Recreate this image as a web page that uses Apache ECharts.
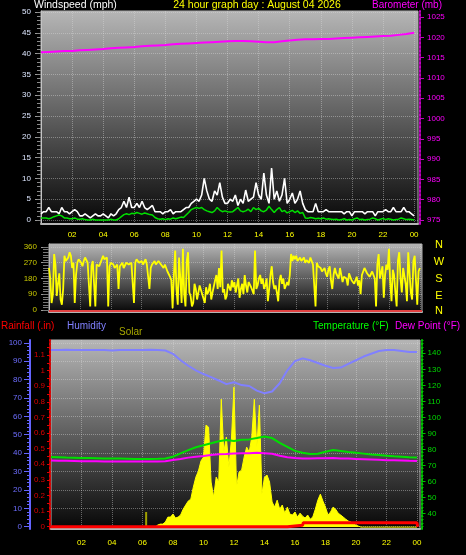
<!DOCTYPE html>
<html><head><meta charset="utf-8">
<script src="https://cdn.jsdelivr.net/npm/echarts@6/dist/echarts.min.js"></script>
<style>html,body{margin:0;padding:0;background:#000;}#c{width:466px;height:555px;}</style>
</head><body><div id="c"></div>
<script>
// ---------- tick labels ----------
const xTickHours = [2,4,6,8,10,12,14,16,18,20,22,24];
const windTicks = [0,5,10,15,20,25,30,35,40,45,50];
const baroTicks = [975,980,985,990,995,1000,1005,1010,1015,1020,1025];
const dirTicks = [0,90,180,270,360];
const compassLetters = ['N','W','S','E','N'];
const humTicks = [0,10,20,30,40,50,60,70,80,90,100];
const rainTicks = [0,0.1,0.2,0.3,0.4,0.5,0.6,0.7,0.8,0.9,1,1.1];
const tempTicks = [40,50,60,70,80,90,100,110,120,130,140];

// ---------- 10-minute series (index i -> hour i/6) ----------
const windGust = [
 1.5,2,2,3,2,2,  2,1.5,3,2,2,1.5,  2,2.5,2,1,1,1.5,  1,0.5,1,1.5,1,1,
 1.5,1,0.5,1.5,1,1.5,  2.5,3,4.5,3,5.5,3,  3,4,3,4.5,3,2.5,  3,3.5,2,2,2,1.5,
 2,2,2.5,1.5,2,2,  2,2.5,3,3,4,4.5,  5,4.5,6,10,7,5,  4.5,7,6,9,5.5,4,
 4,5,4.5,6,3.5,5,  4,7.2,4.5,5,5.5,9,  6,5,11.3,6,4,12.5,  5,7,4.5,6,10,4,
 5,6.5,4,5,7,4,  2.5,2,2,2,4,2,  2,2,2.5,2,2,2,  2,2,2,1.5,2,2,
 1,2,2,2,2,1.5,  2,2,2,1,2,2,  2,2.5,2,2,3,2,  2,2,3,2,2,1.5,  1];
const windAvg = [
 0.5,0.5,0.5,0.3,0.5,0.8,  1,1.2,1,0.5,0.5,0.3,  0.3,0.5,0.2,0.2,0.3,0.1,  0,0,0.2,0,0,0,
 0,0,0,0.2,0,0,  0.3,0.8,1.3,1.5,1.3,1.6,  1.5,1.8,1.6,1.4,1.7,1.5,  1.3,1.2,0.6,0.3,0.2,0.3,
 0.1,0.3,0.2,0.5,0.3,0.5,  0.7,0.6,1.2,1.8,2.5,2.8,  3,2.8,3,2.5,2.2,2,  1.8,2.2,3,2.4,2,2.2,
 2,1.9,2,2.5,3,2.2,  2,2.2,2.6,2,3,2.5,  2.8,2.2,2,2.4,3.3,2.5,  1.8,2.5,3,2,2.3,1.7,
 2,2.3,1.8,2.2,1.6,1.8,  0.5,0.4,0.6,0.5,0.3,0.4,  0.3,0.5,0.2,0.3,0.2,0.1,  0.2,0,0.1,0.3,0,0.1,
 0,0.3,0.5,0.1,0.2,0,  0.1,0.2,0.5,0.3,0,0.2,  0.4,0.1,0.3,0.2,0,0.1,  0.2,0.5,0.3,0.1,0.2,0.1,  0];
const solar = [
 0,0,0,0,0,0, 0,0,0,0,0,0, 0,0,0,0,0,0, 0,0,0,0,0,0, 0,0,0,0,0,0, 0,0,0,0,0,0, 0,0,0,0,0,0,
 11,16,16,27,53,53,
 69,48,53,64,95,117,
 138,148,212,265,297,350,
 371,541,530,239,159,265,
 239,678,398,477,318,466,
 742,212,292,302,371,424,
 398,477,678,424,647,175,
 265,276,239,133,106,143,
 95,117,74,106,69,64,
 80,53,74,58,48,64,
 42,53,95,143,175,138,
 106,64,80,106,95,74,
 64,53,42,32,27,16,
 11,5,0,0,0,0,
 0,0,0,0,0,0, 0,0,0,0,0,0, 0,0,0,0,0,0, 0];

// ---------- 5-minute wind direction (index i -> hour i/12) ----------
const windDir = [
 240,180,40,90,320,260,80,150,210,60,30,120,
 310,280,290,300,330,310,240,270,40,200,270,290,
 290,270,250,280,300,290,270,260,20,250,280,290,
 20,260,270,250,260,290,310,290,280,300,20,250,
 270,280,260,240,250,260,120,250,260,270,240,250,
 270,280,260,250,270,260,40,270,290,280,270,260,
 280,260,270,290,260,250,120,240,260,270,280,260,
 260,280,275,260,250,240,260,250,220,230,190,170,
 10,200,340,120,30,300,180,40,350,90,20,280,
 330,100,80,20,40,150,120,60,100,140,150,90,
 80,40,130,90,110,150,60,100,110,170,200,120,
 240,130,340,100,120,60,80,150,140,110,170,130,
 160,100,140,180,70,120,150,90,200,140,100,160,
 160,130,110,90,340,120,140,180,200,150,180,120,
 140,180,50,120,200,250,160,120,140,100,50,170,
 200,150,180,120,110,160,140,200,320,280,310,290,
 310,280,290,300,280,290,300,270,285,290,270,300,
 280,260,270,20,270,250,260,240,220,230,240,210,
 190,230,250,170,120,200,240,210,200,180,240,200,
 160,190,200,180,140,210,220,170,180,150,160,190,
 140,170,90,200,220,240,250,210,200,190,180,220,
 210,180,20,260,320,180,190,250,70,200,260,230,
 350,160,50,230,200,100,20,280,330,180,100,240,
 240,150,50,330,340,100,60,280,310,170,30,220,
 240];

// ---------- 30-minute series (index i -> hour i/2) ----------
const barometer = [1016.3,1016.4,1016.5,1016.6,1016.6,1016.8,1016.9,1017.0,1017.1,1017.3,1017.4,1017.5,
 1017.6,1017.8,1017.9,1018.0,1018.1,1018.3,1018.4,1018.5,1018.6,1018.7,1018.8,1018.9,
 1019.0,1019.1,1019.1,1019.0,1018.9,1018.8,1018.8,1019.0,1019.2,1019.4,1019.5,1019.5,
 1019.6,1019.6,1019.7,1019.8,1019.9,1020.0,1020.1,1020.2,1020.3,1020.4,1020.6,1020.8,1021.1];
const humidity = [96,96,96.2,96,96,96.1,96,96,95.8,96,96,96,96,96.2,96,95.8,
 94,90.5,87.5,85,83,81.3,79.5,77.5,78.5,77,76.5,74,72.5,73.5,78,85,
 90,91.5,90.5,89,87.5,86.3,86.5,88.5,90.5,92.5,94,95.5,96,96,95.5,95,95];
const temperature = [75.2,75,74.8,74.7,74.6,74.5,74.4,74.3,74.2,74.2,74.1,74,74,74,74.1,74.3,
 75.4,77.5,79.5,81.3,82.5,83.8,85,85.8,85.2,86,86.2,87,88,87,84,81.5,
 79,77.8,77,77.2,78.5,79.6,79,78.3,77.8,77.3,76.8,76.4,76,75.6,75.3,75,74.8];
const dewPoint = [73,72.9,72.8,72.7,72.6,72.5,72.5,72.4,72.4,72.3,72.3,72.3,72.3,72.3,72.4,72.6,
 73.3,74,74.8,75.3,75.8,76.5,76.9,77,77.3,77.5,77.5,77.8,77.5,77.2,76,75,
 74.5,74.3,74.3,74.4,74.4,74.5,74.3,74.2,74,73.8,73.6,73.4,73.2,73.1,73,72.8,72.7];

// ---------- rainfall (accumulated, step points) ----------
const rainHours = [0, 15.5, 15.55, 16.5, 16.55, 24.0, 24.05];
const rainInches = [0, 0, 0.01, 0.01, 0.025, 0.025, 0];
const solarMarkHour = [6.24, 6.24];
const solarMarkValue = [0, 80];

// ---------- build ----------
const FONT = "'Liberation Sans', Arial, sans-serif";
const every5 = arr => arr.map((v, i) => [i / 12, v]);
const every10 = arr => arr.map((v, i) => [i / 6, v]);
const every30 = arr => arr.map((v, i) => [i / 2, v]);
const pairs = (xs, ys) => xs.map((x, i) => [x, ys[i]]);
const range = (a, b, s) => { const r = []; for (let v = a; v <= b + 1e-9; v += s) r.push(+v.toFixed(4)); return r; };
const hourFmt = v => { const h = Math.round(v) % 24; return (h < 10 ? '0' : '') + h; };
const plain = v => String(v);

const bg = () => new echarts.graphic.LinearGradient(0, 0, 0, 1, [
  { offset: 0, color: '#b6b6b6' }, { offset: 1, color: '#060606' }]);
const gridLine = { show: true, lineStyle: { color: 'rgba(220,220,220,0.42)', type: 'dotted', width: 1 } };

function xAx(grid, max, labels, margin) {
  return {
    type: 'value', gridIndex: grid, min: 0, max: max,
    axisLine: { show: true, onZero: false, lineStyle: { color: '#b4b4b4', width: 2 } },
    axisTick: { show: false, customValues: xTickHours },
    axisLabel: labels ? { customValues: xTickHours, formatter: hourFmt, color: '#ffff00', fontSize: 8, fontFamily: FONT, margin: margin } : { show: false },
    splitLine: gridLine
  };
}
function yAx(o) {
  return Object.assign({
    type: 'value', axisLine: { show: false, onZero: false }, splitLine: { show: false },
    axisLabel: { show: false }, axisTick: { show: false }
  }, o);
}

const option = {
  backgroundColor: '#000',
  animation: false,
  grid: [
    { left: 41, top: 11, width: 377, height: 213, show: true, backgroundColor: bg(), borderColor: '#b0b0b0', borderWidth: 1 },
    { left: 49, top: 244, width: 373, height: 68, show: true, backgroundColor: bg(), borderColor: '#b0b0b0', borderWidth: 1 },
    { left: 51, top: 340, width: 369, height: 189, show: true, backgroundColor: bg(), borderColor: '#b0b0b0', borderWidth: 1 }
  ],
  xAxis: [ xAx(0, 24.25, true, 7), xAx(1, 24.14, false, 0), xAx(2, 24.2, true, 10) ],
  yAxis: [
    // 0 wind
    yAx({ gridIndex: 0, position: 'left', min: -0.96, max: 50.24,
      axisLine: { show: true, onZero: false, lineStyle: { color: '#c4c4c4', width: 1 } },
      axisTick: { show: true, customValues: windTicks, length: 6, lineStyle: { color: '#9a9a9a' } },
      axisLabel: { show: true, customValues: windTicks, color: '#dde6ff', fontSize: 8, fontFamily: FONT, margin: 10 },
      splitLine: gridLine }),
    // 1 wind minor ticks
    yAx({ gridIndex: 0, position: 'left', min: -0.96, max: 50.24,
      axisTick: { show: true, customValues: range(0, 50, 1), length: 4, lineStyle: { color: '#8a8a8a' } } }),
    // 2 barometer
    yAx({ gridIndex: 0, position: 'right', offset: 2, min: 974.01, max: 1026.48,
      axisLine: { show: true, onZero: false, lineStyle: { color: '#c000c0', type: 'dotted', width: 2 } },
      axisTick: { show: true, customValues: baroTicks, length: 4, lineStyle: { color: '#c000c0' } },
      axisLabel: { show: true, customValues: baroTicks, formatter: plain, color: '#ff00ff', fontSize: 8, fontFamily: FONT, margin: 7 } }),
    // 3 direction
    yAx({ gridIndex: 1, position: 'left', min: -11.4, max: 377.1,
      axisLine: { show: true, onZero: false, lineStyle: { color: '#b8b8b8', width: 1 } },
      axisTick: { show: true, customValues: dirTicks, length: 8, lineStyle: { color: '#9a9a9a' } },
      axisLabel: { show: true, customValues: dirTicks, color: '#c8c800', fontSize: 8, fontFamily: FONT, margin: 12 },
      splitLine: gridLine }),
    // 4 direction minor
    yAx({ gridIndex: 1, position: 'left', min: -11.4, max: 377.1,
      axisTick: { show: true, customValues: range(0, 360, 15), length: 6, lineStyle: { color: '#7a7a7a' } } }),
    // 5 humidity
    yAx({ gridIndex: 2, position: 'left', offset: 21, min: -1.25, max: 101.5,
      axisLine: { show: true, onZero: false, lineStyle: { color: '#6464ff', width: 2 } },
      axisTick: { show: true, customValues: humTicks, length: 6, lineStyle: { color: '#6464ff' } },
      axisLabel: { show: true, customValues: humTicks, color: '#6e6eff', fontSize: 8, fontFamily: FONT, margin: 8 },
      splitLine: gridLine }),
    // 6 humidity minor
    yAx({ gridIndex: 2, position: 'left', offset: 21, min: -1.25, max: 101.5,
      axisTick: { show: true, customValues: range(0, 100, 2), length: 3, lineStyle: { color: '#6464ff' } } }),
    // 7 rain
    yAx({ gridIndex: 2, position: 'left', offset: 1, min: -0.0147, max: 1.196,
      axisLine: { show: true, onZero: false, lineStyle: { color: '#e00000', type: 'dotted', width: 2 } },
      axisTick: { show: true, customValues: range(0, 1.15, 0.05), length: 3, lineStyle: { color: '#e00000' } },
      axisLabel: { show: true, customValues: rainTicks, formatter: v => String(Math.round(v * 10) / 10), color: '#dd0000', fontSize: 8, fontFamily: FONT, margin: 5 } }),
    // 8 temperature
    yAx({ gridIndex: 2, position: 'right', offset: 1.5, min: 30.19, max: 148.31,
      axisLine: { show: true, onZero: false, lineStyle: { color: '#00c000', type: 'dotted', width: 2 } },
      axisTick: { show: true, customValues: tempTicks, length: 4, lineStyle: { color: '#00c000' } },
      axisLabel: { show: true, customValues: tempTicks, color: '#00d800', fontSize: 8, fontFamily: FONT, margin: 6 } }),
    // 9 temperature minor
    yAx({ gridIndex: 2, position: 'right', offset: 1.5, min: 30.19, max: 148.31,
      axisTick: { show: true, customValues: range(32, 148, 2), length: 2, lineStyle: { color: '#00c000' } } }),
    // 10 solar (hidden)
    yAx({ gridIndex: 2, position: 'right', min: -10, max: 992, show: false })
  ],
  series: [
    { name: 'Gust', type: 'line', xAxisIndex: 0, yAxisIndex: 0, data: every10(windGust),
      symbol: 'none', lineStyle: { color: '#ffffff', width: 1.6 }, z: 3 },
    { name: 'Wind', type: 'line', xAxisIndex: 0, yAxisIndex: 0, data: every10(windAvg),
      symbol: 'none', lineStyle: { color: '#00e000', width: 1.5 }, z: 4 },
    { name: 'Barometer', type: 'line', xAxisIndex: 0, yAxisIndex: 2, data: every30(barometer),
      symbol: 'none', lineStyle: { color: '#ff00ff', width: 2 }, z: 4 },
    { name: 'Direction', type: 'line', xAxisIndex: 1, yAxisIndex: 3, data: every5(windDir),
      symbol: 'none', lineStyle: { color: '#ffff00', width: 1.8 }, z: 3,
      markLine: { silent: true, symbol: 'none', label: { show: false },
        lineStyle: { color: '#e04040', type: 'solid', width: 2 }, data: [{ yAxis: -7 }] } },
    { name: 'Solar', type: 'line', xAxisIndex: 2, yAxisIndex: 10, data: every10(solar),
      symbol: 'none', lineStyle: { color: '#ffff00', width: 1 }, areaStyle: { color: '#ffff00', opacity: 1 }, z: 2 },
    { name: 'SolarMark', type: 'line', xAxisIndex: 2, yAxisIndex: 10, data: pairs(solarMarkHour, solarMarkValue),
      symbol: 'none', lineStyle: { color: '#a0a000', width: 2 }, z: 2 },
    { name: 'Humidity', type: 'line', xAxisIndex: 2, yAxisIndex: 5, data: every30(humidity),
      symbol: 'none', lineStyle: { color: '#8080ff', width: 2 }, z: 4 },
    { name: 'Dew Point', type: 'line', xAxisIndex: 2, yAxisIndex: 8, data: every30(dewPoint),
      symbol: 'none', lineStyle: { color: '#ff00ff', width: 2 }, z: 4 },
    { name: 'Temperature', type: 'line', xAxisIndex: 2, yAxisIndex: 8, data: every30(temperature),
      symbol: 'none', lineStyle: { color: '#00e000', width: 2 }, z: 4 },
    { name: 'Rainfall', type: 'line', xAxisIndex: 2, yAxisIndex: 7, data: pairs(rainHours, rainInches),
      symbol: 'none', lineStyle: { color: '#ff0000', width: 3 }, z: 5 }
  ],
  graphic: [
    { type: 'text', x: 34, y: 5.5, style: { text: 'Windspeed (mph)', fill: '#ffffff', font: '10.5px ' + FONT, verticalAlign: 'middle' } },
    { type: 'text', x: 257, y: 5.5, style: { text: '24 hour graph day : August 04 2026', fill: '#ffff00', font: '10.5px ' + FONT, align: 'center', verticalAlign: 'middle' } },
    { type: 'text', x: 372, y: 5.5, style: { text: 'Barometer (mb)', fill: '#ff00ff', font: '10px ' + FONT, verticalAlign: 'middle' } },
    ...compassLetters.map((c, i) => ({ type: 'text', x: 439, y: [244.5, 262, 278.5, 296, 311][i],
      style: { text: c, fill: '#ffff00', font: '11px ' + FONT, align: 'center', verticalAlign: 'middle' } })),
    { type: 'text', x: 1, y: 326.7, style: { text: 'Rainfall (.in)', fill: '#ff0000', font: '10px ' + FONT, verticalAlign: 'middle' } },
    { type: 'text', x: 67, y: 326.7, style: { text: 'Humidity', fill: '#8080ff', font: '10px ' + FONT, verticalAlign: 'middle' } },
    { type: 'text', x: 119, y: 332.7, style: { text: 'Solar', fill: '#a8a800', font: '10px ' + FONT, verticalAlign: 'middle' } },
    { type: 'text', x: 313, y: 326.7, style: { text: 'Temperature (°F)', fill: '#00ff00', font: '10px ' + FONT, verticalAlign: 'middle' } },
    { type: 'text', x: 395, y: 326.7, style: { text: 'Dew Point (°F)', fill: '#ff00ff', font: '10px ' + FONT, verticalAlign: 'middle' } }
  ]
};
echarts.init(document.getElementById('c'), null, { renderer: 'canvas' }).setOption(option);
</script>
</body></html>
